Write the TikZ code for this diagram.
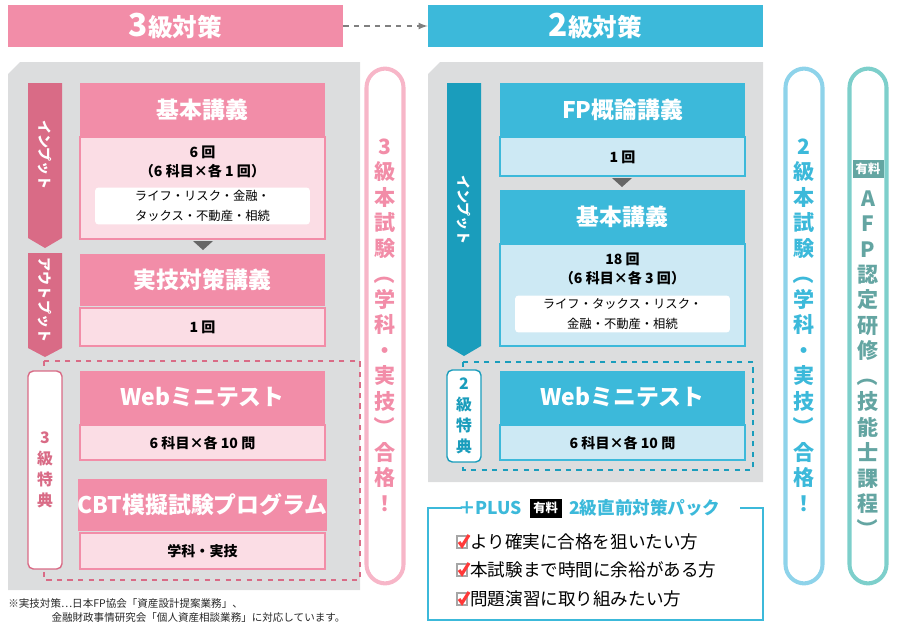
\documentclass[tikz,border=0pt]{standalone}
\usepackage{fontspec}
\setmainfont{Noto Sans CJK JP}
\usetikzlibrary{calc,positioning}
\definecolor{pinkhd}{HTML}{F28DA8}
\definecolor{pinkbd}{HTML}{FBDDE5}
\definecolor{pinkar}{HTML}{D96B86}
\definecolor{pinkpl}{HTML}{F7B6C8}
\definecolor{cyanhd}{HTML}{3CB9DA}
\definecolor{cyanbd}{HTML}{CDE9F4}
\definecolor{cyanar}{HTML}{1A9DBC}
\definecolor{cyanpl}{HTML}{8ED3EA}
\definecolor{tealpl}{HTML}{7DCFCB}
\definecolor{panel}{HTML}{DCDDDE}
\tikzset{
  hdr/.style={fill=#1hd,text=white,font=\bfseries\fontsize{13}{15}\selectfont,minimum width=4.9cm,minimum height=1.06cm,inner sep=0pt},
  bdy/.style={fill=#1bd,draw=#1hd,line width=1.2pt,font=\bfseries\fontsize{8}{11}\selectfont,minimum width=4.9cm,inner sep=0pt,align=center},
  wbox/.style={fill=white,rounded corners=2pt,font=\fontsize{7}{11}\selectfont,minimum width=4.3cm,minimum height=0.74cm,align=center,inner sep=0pt},
  banner/.style={fill=#1hd,text=white,font=\bfseries\fontsize{14}{16}\selectfont,minimum width=6.7cm,minimum height=0.86cm,inner sep=0pt},
  pill/.style={draw=#1,line width=2.3pt,rounded corners=0.38cm,minimum width=0.74cm,minimum height=10.3cm,inner sep=0pt},
  vlab/.style={text=#1,font=\bfseries\fontsize{12}{14.5}\selectfont,align=center,inner sep=0pt},
  chk/.style={font=\fontsize{10}{12}\selectfont,anchor=west,inner sep=0pt}
}
\newcommand{\vp}[1]{\rotatebox[origin=c]{-90}{#1}}
\newcommand{\checkicon}[1]{
  \draw[gray!70,line width=1.2pt] ($(#1)+(-13,-6)$) rectangle ($(#1)+(-3,6)$);
  \draw[red!70!pink,line width=1.8pt] ($(#1)+(-11,0)$) -- ($(#1)+(-8,4)$) -- ($(#1)+(-1,-7)$);
}
\begin{document}
\begin{tikzpicture}[x=0.02cm,y=-0.02cm]
  \useasboundingbox (0,0) rectangle (900,632);
  % banners
  \node[banner=pink] (b3) at (175.5,26) {\fontsize{18}{18}\selectfont 3\fontsize{14}{16}\selectfont 級対策};
  \node[banner=cyan] (b2) at (595.5,26) {\fontsize{18}{18}\selectfont 2\fontsize{14}{16}\selectfont 級対策};
  \draw[gray,dashed,-latex,thick] (b3.east) -- (b2.west);
  % gray panels
  \fill[panel] (20,62) -- (360,62) -- (360,590) -- (8,590) -- (8,74) -- cycle;
  \fill[panel] (440,62) -- (763,62) -- (763,482) -- (428,482) -- (428,74) -- cycle;
  % left arrows
  \fill[pinkar] (28,83) -- (62,83) -- (62,238) -- (45,248) -- (28,238) -- cycle;
  \node[text=white,font=\bfseries\fontsize{8}{9}\selectfont,rotate=-90] (in3) at (45,155) {インプット};
  \fill[pinkar] (28,253) -- (62,253) -- (62,348) -- (45,357) -- (28,348) -- cycle;
  \node[text=white,font=\bfseries\fontsize{8}{9}\selectfont,rotate=-90] (out3) at (45,300) {アウトプット};
  \fill[cyanar] (447,83) -- (481,83) -- (481,346) -- (464,356) -- (447,346) -- cycle;
  \node[text=white,font=\bfseries\fontsize{8}{9}\selectfont,rotate=-90] (in2) at (464,210) {インプット};
  % level 3 boxes
  \node[hdr=pink] (k3h) at (202.5,109.5) {基本講義};
  \node[bdy=pink,minimum height=2.04cm,anchor=north] (k3b) at (k3h.south) {};
  \node[font=\bfseries\fontsize{8}{11}\selectfont,align=center] (k3t) at (202.5,162) {6 回\\（6 科目×各 1 回）};
  \node[wbox] (k3w) at (202.5,206) {ライフ・リスク・金融・\\タックス・不動産・相続};
  \fill[gray!80!black] (193,241) -- (213,241) -- (203,250) -- cycle;
  \node[hdr=pink] (j3h) at (202.5,280) {実技対策講義};
  \node[bdy=pink,minimum height=0.76cm,anchor=north] (j3b) at (j3h.south) {1 回};
  \draw[pinkar,dashed,thick] (44,361) rectangle (360,580);
  \node[fill=white,draw=pinkar,thick,rounded corners=3pt,minimum width=0.68cm,minimum height=3.96cm,inner sep=0pt] (t3) at (45,470) {};
  \node[vlab=pinkar,font=\bfseries\fontsize{9}{12}\selectfont] at (t3) {3\\級\\特\\典};
  \node[hdr=pink] (w3h) at (202.5,397.5) {Webミニテスト};
  \node[bdy=pink,minimum height=0.7cm,anchor=north] (w3b) at (w3h.south) {6 科目×各 10 問};
  \node[hdr=pink] (c3h) at (202.5,505) {CBT模擬試験プログラム};
  \node[bdy=pink,minimum height=0.72cm,anchor=north] (c3b) at (c3h.south) {学科・実技};
  % level 2 boxes
  \node[hdr=cyan] (f2h) at (622.5,109.5) {FP概論講義};
  \node[bdy=cyan,minimum height=0.78cm,anchor=north] (f2b) at (f2h.south) {1 回};
  \fill[gray!80!black] (612,178) -- (632,178) -- (622,187) -- cycle;
  \node[hdr=cyan] (k2h) at (622.5,216.5) {基本講義};
  \node[bdy=cyan,minimum height=2.04cm,anchor=north] (k2b) at (k2h.south) {};
  \node[font=\bfseries\fontsize{8}{11}\selectfont,align=center] (k2t) at (622.5,269) {18 回\\（6 科目×各 3 回）};
  \node[wbox] (k2w) at (622.5,314) {ライフ・タックス・リスク・\\金融・不動産・相続};
  \draw[cyanar,dashed,thick] (463,362) rectangle (753,470);
  \node[fill=white,draw=cyanar,thick,rounded corners=3pt,minimum width=0.68cm,minimum height=1.84cm,inner sep=0pt] (t2) at (464,416) {};
  \node[vlab=cyanar,font=\bfseries\fontsize{9}{12}\selectfont] at (t2) {2\\級\\特\\典};
  \node[hdr=cyan] (w2h) at (622.5,397.5) {Webミニテスト};
  \node[bdy=cyan,minimum height=0.7cm,anchor=north] (w2b) at (w2h.south) {6 科目×各 10 問};
  % pills
  \node[pill=pinkpl] (p3) at (385,326) {};
  \node[vlab=pinkhd] at (385,325) {3\\級\\本\\試\\験\\\vp{（}\\学\\科\\・\\実\\技\\\vp{）}\\合\\格\\！};
  \node[pill=cyanpl] (p2) at (804,326) {};
  \node[vlab=cyanhd] at (804,325) {2\\級\\本\\試\\験\\\vp{（}\\学\\科\\・\\実\\技\\\vp{）}\\合\\格\\！};
  \node[pill=tealpl] (pa) at (868,326) {};
  \node[fill=tealpl!80!black,text=white,font=\bfseries\fontsize{7}{8}\selectfont,minimum width=0.62cm,minimum height=0.38cm,inner sep=0pt] (fee) at (868,169) {有料};
  \node[vlab=tealpl!80!black,anchor=north] at (868,190) {A\\F\\P\\認\\定\\研\\修\\\vp{（}\\技\\能\\士\\課\\程\\\vp{）}};
  % plus box
  \draw[cyanhd,thick] (462,508) -- (428,508) -- (428,620) -- (763,620) -- (763,508) -- (740,508);
  \node[text=cyanhd,font=\bfseries\fontsize{10}{12}\selectfont,anchor=west,inner sep=0pt] (plus) at (458,508) {＋PLUS};
  \node[fill=black,text=white,font=\bfseries\fontsize{7}{8}\selectfont,right=4pt of plus,minimum height=0.38cm,inner sep=2pt] (fee2) {有料};
  \node[text=cyanhd,font=\bfseries\fontsize{10}{12}\selectfont,right=4pt of fee2,inner sep=0pt] (pack) {2級直前対策パック};
  \node[chk] (c1) at (470,542) {より確実に合格を狙いたい方};
  \node[chk] (c2) at (470,570) {本試験まで時間に余裕がある方};
  \node[chk] (c3) at (470,599) {問題演習に取り組みたい方};
  \checkicon{c1.west}
  \checkicon{c2.west}
  \checkicon{c3.west}
  % footnote
  \node[anchor=north west,font=\fontsize{6}{8}\selectfont,text=gray!30!black,align=left,inner sep=0pt] (note) at (8,598)
    {※実技対策…日本FP協会「資産設計提案業務」、\\\hspace*{4.1em}金融財政事情研究会「個人資産相談業務」に対応しています。};
\end{tikzpicture}
\end{document}
